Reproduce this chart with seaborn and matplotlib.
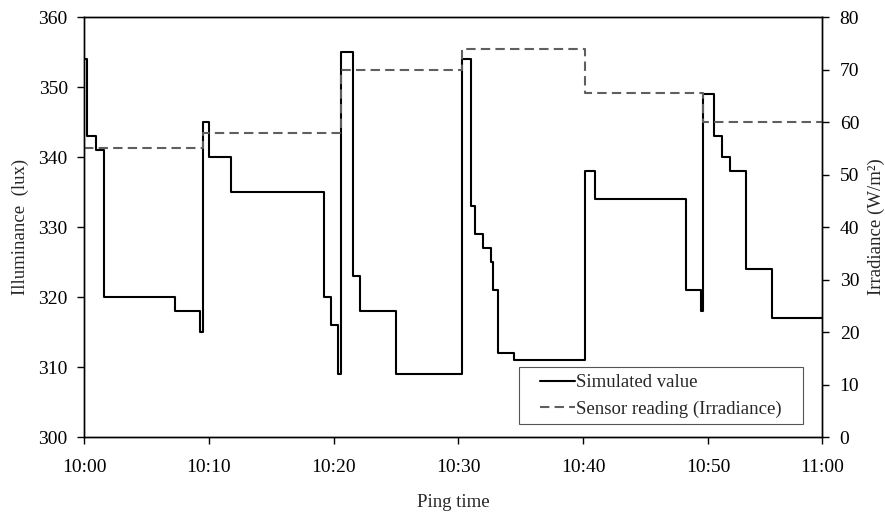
import matplotlib
matplotlib.use("Agg")
import matplotlib.pyplot as plt
import seaborn as sns
from matplotlib.lines import Line2D
from matplotlib.legend_handler import HandlerLine2D

# minutes after 10:00 where the simulated value changes (last entry = end of axis)
sim_minutes = [0.0, 0.22, 0.94, 1.63, 7.29, 9.32, 9.56, 10.02, 11.75, 19.23, 19.77,
               20.38, 20.59, 21.58, 22.12, 24.98, 30.26, 31.01, 31.33, 32.0, 32.59,
               32.75, 33.2, 34.46, 40.14, 40.97, 48.24, 49.41, 49.62, 50.48, 51.1,
               51.76, 53.04, 55.15, 59.13]
sim_lux = [354, 343, 341, 320, 318, 315, 345, 340, 335, 320, 316,
           309, 355, 323, 318, 309, 354, 333, 329, 327, 325,
           321, 312, 311, 338, 334, 321, 318, 349, 343, 340,
           338, 324, 317, 317]

sensor_minutes = [0.0, 9.56, 20.59, 30.26, 40.14, 49.62, 59.13]
sensor_irr = [55, 58, 70, 74, 65.5, 60, 60]

tick_minutes = [0, 10, 20, 30, 40, 50, 59.13]
tick_labels = ["10:00", "10:10", "10:20", "10:30", "10:40", "10:50", "11:00"]


class PaddedLine(HandlerLine2D):
    # leaves an empty gap left of the legend line, like the Excel legend
    def create_artists(self, legend, orig_handle, xdescent, ydescent, width, height, fontsize, trans):
        gap = 0.75 * fontsize
        return super().create_artists(legend, orig_handle, xdescent - gap, ydescent,
                                      width - gap, height, fontsize, trans)


sns.set_style("ticks")
plt.rcParams["font.family"] = ["Liberation Serif", "DejaVu Serif"]
plt.rcParams["font.size"] = 13.5

fig = plt.figure(figsize=(8.85, 5.2), dpi=100)
ax = fig.add_axes([0.0949, 0.1596, 0.8339, 0.8077])
ax2 = ax.twinx()

sns.lineplot(x=sim_minutes, y=sim_lux, drawstyle="steps-post", color="black",
             linewidth=1.5, estimator=None, ax=ax, label="Simulated value", legend=False)
sns.lineplot(x=sensor_minutes, y=sensor_irr, drawstyle="steps-post", color="#5f5f5f",
             linewidth=1.5, linestyle=(0, (4.5, 2.5)), estimator=None, ax=ax2,
             label="Sensor reading (Irradiance)", legend=False)

ax.set_xlim(0, 59.13)
ax.set_ylim(300, 360)
ax2.set_ylim(0, 80)
ax.set_xticks(tick_minutes)
ax.set_xticklabels(tick_labels)
ax.set_yticks(range(300, 361, 10))
ax2.set_yticks(range(0, 81, 10))

ax.set_xlabel("Ping time", labelpad=13, fontsize=13.5)
ax.set_ylabel("Illuminance  (lux)", labelpad=7, fontsize=13.5)
ax2.set_ylabel("Irradiance (W/m²)", labelpad=6, fontsize=13.5)

for a in (ax, ax2):
    for s in a.spines.values():
        s.set_visible(True)
        s.set_color("black")
        s.set_linewidth(1.0)
    a.tick_params(direction="out", length=4.7, width=1, colors="black", labelsize=14)
ax.tick_params(axis="x", pad=11)
ax.tick_params(axis="y", pad=7)
ax2.tick_params(axis="y", pad=8)

h1, l1 = ax.get_legend_handles_labels()
h2, l2 = ax2.get_legend_handles_labels()
leg = ax2.legend(h1 + h2, l1 + l2, loc="lower left",
                 bbox_to_anchor=(0.5894, 0.0302, 0.3848, 0.14), mode="expand",
                 borderaxespad=0, frameon=True, fancybox=False, edgecolor="#555555",
                 framealpha=1, handlelength=2.64, handletextpad=0.05, borderpad=0.35,
                 labelspacing=0.5, fontsize=13.5,
                 handler_map={Line2D: PaddedLine()})
leg.get_frame().set_linewidth(0.8)

fig.savefig("out.png", dpi=100)
